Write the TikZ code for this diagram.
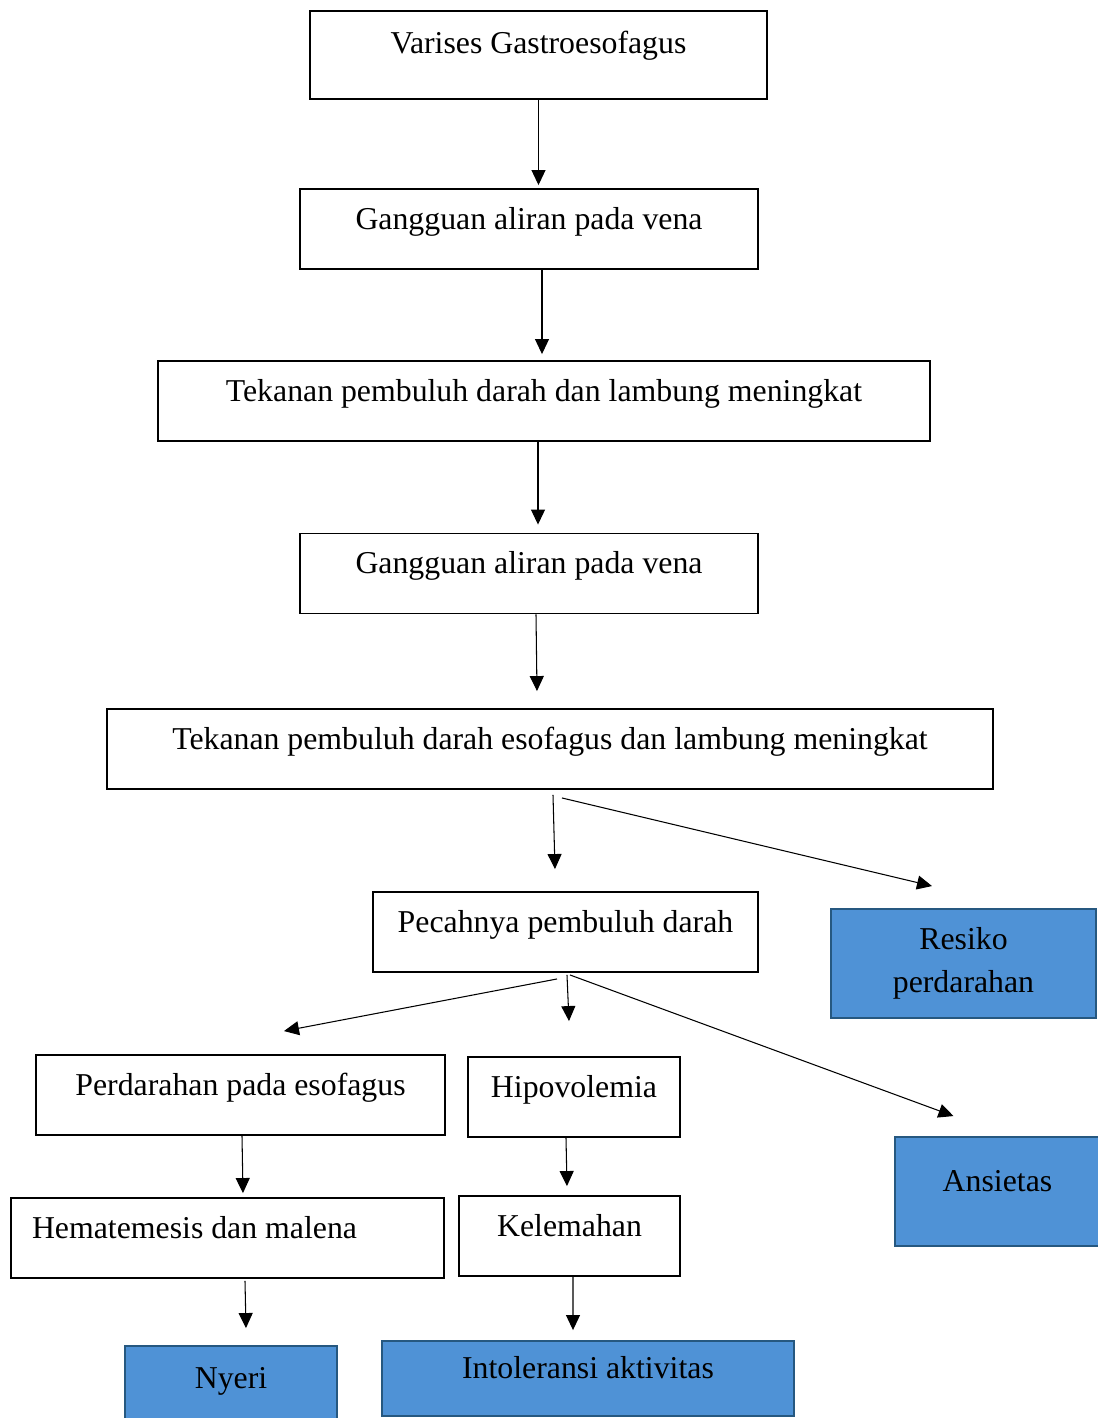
\documentclass[tikz,border=0pt]{standalone}
\usepackage{fontspec}
\setmainfont{Liberation Serif}
\usepackage{tikz}
\usetikzlibrary{calc, positioning, arrows.meta}

\definecolor{bluefill}{RGB}{79,146,214}
\definecolor{blueline}{RGB}{38,88,128}

\begin{document}
\begin{tikzpicture}[
  x=0.02cm, y=-0.02cm,
  font=\fontsize{18.1}{24.6}\selectfont,
  box/.style={draw, line width=1.1pt, minimum height=1.6cm, inner sep=0pt,
    text height=0.42cm, text depth=0.42cm},
  diag/.style={draw=blueline, fill=bluefill, line width=1.1pt, inner sep=0pt, align=center},
  arr/.style={-{Triangle[length=3mm, width=2.8mm]}, line width=0.6pt}
]
  \useasboundingbox (0,0) rectangle (1098,1418);

  % chain down the middle
  \node[box, minimum width=9.14cm, minimum height=1.76cm, text depth=0.5cm] (vari) at (538.5,55) {Varises Gastroesofagus};
  \node[box, minimum width=9.16cm] (gang1) at (529,229) {Gangguan aliran pada vena};
  \node[box, minimum width=15.44cm] (tek1) at (544,401) {Tekanan pembuluh darah dan lambung meningkat};
  \node[box, minimum width=9.16cm] (gang2) at (529,573.5) {Gangguan aliran pada vena};
  \node[box, minimum width=17.72cm] (tek2) at (550,749) {Tekanan pembuluh darah esofagus dan lambung meningkat};
  \node[box, minimum width=7.7cm] (pecah) at (565.5,932) {Pecahnya pembuluh darah};

  % branches
  \node[box, minimum width=8.18cm] (perd) at (240.5,1095) {Perdarahan pada esofagus};
  \node[box, minimum width=4.24cm] (hipo) at (574,1097) {Hipovolemia};
  \node[box, minimum width=8.66cm, text width=7.82cm, inner xsep=0.42cm, align=flush left] (hema) at (227.5,1238) {Hematemesis dan malena};
  \node[box, minimum width=4.42cm] (kel) at (569.5,1236) {Kelemahan};

  % diagnoses
  \node[diag, minimum width=5.3cm, minimum height=2.18cm] (resiko) at (963.5,963.5) {Resiko\\perdarahan};
  \node[diag, minimum width=4.1cm, minimum height=2.18cm, text height=0.42cm, text depth=0.42cm] (ansi) at (997.5,1191.5) {Ansietas};
  \node[diag, minimum width=4.24cm, minimum height=1.68cm, text height=0.42cm, text depth=0.42cm] (nyeri) at (231,1388) {Nyeri};
  \node[diag, minimum width=8.24cm, minimum height=1.5cm, text height=0.42cm, text depth=0.42cm] (into) at (588,1378.5) {Intoleransi aktivitas};

  \draw[arr, shorten >=0.06cm] (vari.south) -- (vari.south |- gang1.north);
  \draw[arr, shorten >=0.12cm] ([xshift=0.26cm]gang1.south) -- ([xshift=0.26cm]gang1.south |- tek1.north);
  \draw[arr, shorten >=0.16cm] ([xshift=-0.12cm]tek1.south) -- ([xshift=-0.12cm]tek1.south |- gang2.north);
  \draw[arr] ([xshift=0.14cm]gang2.south) -- ([xshift=0.16cm,yshift=0.34cm]gang2.south |- tek2.north);
  \draw[arr] ([xshift=0.06cm,yshift=-0.1cm]tek2.south) -- ([xshift=-0.21cm,yshift=0.44cm]pecah.north);
  \draw[arr] ([xshift=0.24cm,yshift=-0.16cm]tek2.south) -- ([xshift=-0.63cm,yshift=0.44cm]resiko.north);
  \draw[arr] ([xshift=-0.17cm,yshift=-0.12cm]pecah.south) -- ([xshift=0.87cm,yshift=0.46cm]perd.north);
  \draw[arr] ([xshift=0.03cm,yshift=-0.04cm]pecah.south) -- ([xshift=-0.1cm,yshift=0.7cm]hipo.north);
  \draw[arr] ([xshift=0.09cm,yshift=-0.04cm]pecah.south) -- ([xshift=-0.88cm,yshift=0.4cm]ansi.north);
  \draw[arr] ([xshift=0.03cm]perd.south) -- ([xshift=0.31cm,yshift=0.08cm]hema.north);
  \draw[arr] ([xshift=-0.16cm]hipo.south) -- ([xshift=-0.05cm,yshift=0.18cm]kel.north);
  \draw[arr] ([xshift=0.35cm,yshift=-0.04cm]hema.south) -- ([xshift=0.3cm,yshift=0.34cm]nyeri.north);
  \draw[arr] ([xshift=0.07cm]kel.south) -- ([xshift=-0.3cm,yshift=0.2cm]into.north);
\end{tikzpicture}
\end{document}
